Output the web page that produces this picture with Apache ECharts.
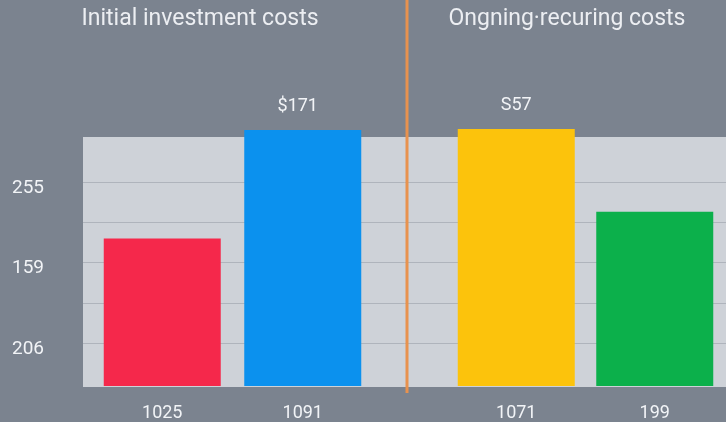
<!DOCTYPE html>
<html>
<head>
<meta charset="utf-8">
<script src="https://cdn.jsdelivr.net/npm/echarts@6/dist/echarts.min.js"></script>
<style>html,body{margin:0;padding:0;background:#7b838f;}#c{width:726px;height:422px;}</style>
</head>
<body>
<div id="c"></div>
<script>
// ---- data ----
var panelTitles = ['Initial investment costs', 'Ongning\u00b7recuring costs'];
var leftCategories = ['1025', '1091'];
var leftValues = [148, 257];
var leftValueLabels = ['', '$171'];
var rightCategories = ['1071', '199'];
var rightValues = [258, 175];
var rightValueLabels = ['S57', ''];
var gridLineValues = [44, 84, 125, 165, 205];
var yTickValues = [44, 125, 205];
var yTickLabels = ['206', '159', '255'];
var barColorsLeft = ['#f5284b', '#0b91ee'];
var barColorsRight = ['#fcc30c', '#0cb04b'];

var FONT = 'Roboto, "Open Sans", sans-serif';
var chart = echarts.init(document.getElementById('c'), null, {renderer: 'canvas'});

function barSeries(xi, values, colors, labels, labelOffsetX) {
  return {
    type: 'bar', xAxisIndex: xi, yAxisIndex: xi, clip: false,
    barWidth: 117,
    data: values.map(function (v, i) { return {value: v, itemStyle: {color: colors[i]}}; }),
    label: {
      show: true, position: 'top', distance: 15, color: '#f2f4f7',
      fontFamily: FONT, fontSize: 18, offset: [labelOffsetX, 0],
      formatter: function (p) { return labels[p.dataIndex]; }
    }
  };
}

var yBase = {type: 'value', min: 0, max: 250, axisLine: {show: false}, axisTick: {show: false}, splitLine: {show: false}, axisLabel: {show: false}};

var option = {
  backgroundColor: '#7b838f',
  animation: false,
  grid: [
    {left: 83, right: 0, top: 137, bottom: 35, show: true, backgroundColor: '#ced2d8', borderWidth: 0},
    {left: 92, width: 281, top: 137, bottom: 35},
    {left: 447, width: 277, top: 137, bottom: 35}
  ],
  xAxis: [
    {gridIndex: 0, type: 'value', show: false, min: 0, max: 1},
    {gridIndex: 1, type: 'category', data: leftCategories, axisLine: {show: false}, axisTick: {show: false},
     axisLabel: {color: '#f2f4f7', fontFamily: FONT, fontSize: 18, margin: 18}},
    {gridIndex: 2, type: 'category', data: rightCategories, axisLine: {show: false}, axisTick: {show: false},
     axisLabel: {color: '#f2f4f7', fontFamily: FONT, fontSize: 18, margin: 18}}
  ],
  yAxis: [
    {gridIndex: 0, type: 'value', min: 0, max: 250,
     axisLine: {show: false},
     axisTick: {show: false, customValues: gridLineValues},
     splitLine: {show: true, lineStyle: {color: '#afb4bc', width: 1}},
     axisLabel: {show: true, customValues: yTickValues, color: '#f2f4f7', fontFamily: FONT, fontSize: 19, margin: 39,
       verticalAlign: 'top', lineHeight: 12,
       formatter: function (v) { var i = yTickValues.indexOf(v); return i >= 0 ? yTickLabels[i] : ''; }}},
    Object.assign({gridIndex: 1}, yBase),
    Object.assign({gridIndex: 2}, yBase)
  ],
  series: [
    barSeries(1, leftValues, barColorsLeft, leftValueLabels, -5),
    barSeries(2, rightValues, barColorsRight, rightValueLabels, 0)
  ],
  graphic: [
    {type: 'rect', z: 100, shape: {x: 405.5, y: 0, width: 3, height: 393}, style: {fill: '#e8924e'}},
    {type: 'text', x: 200, y: 19, style: {text: panelTitles[0], fill: '#eceef2', font: '23px ' + FONT, textAlign: 'center', textVerticalAlign: 'middle'}},
    {type: 'text', x: 567, y: 19, style: {text: panelTitles[1], fill: '#eceef2', font: '23px ' + FONT, textAlign: 'center', textVerticalAlign: 'middle'}}
  ]
};
chart.setOption(option);
</script>
</body>
</html>
